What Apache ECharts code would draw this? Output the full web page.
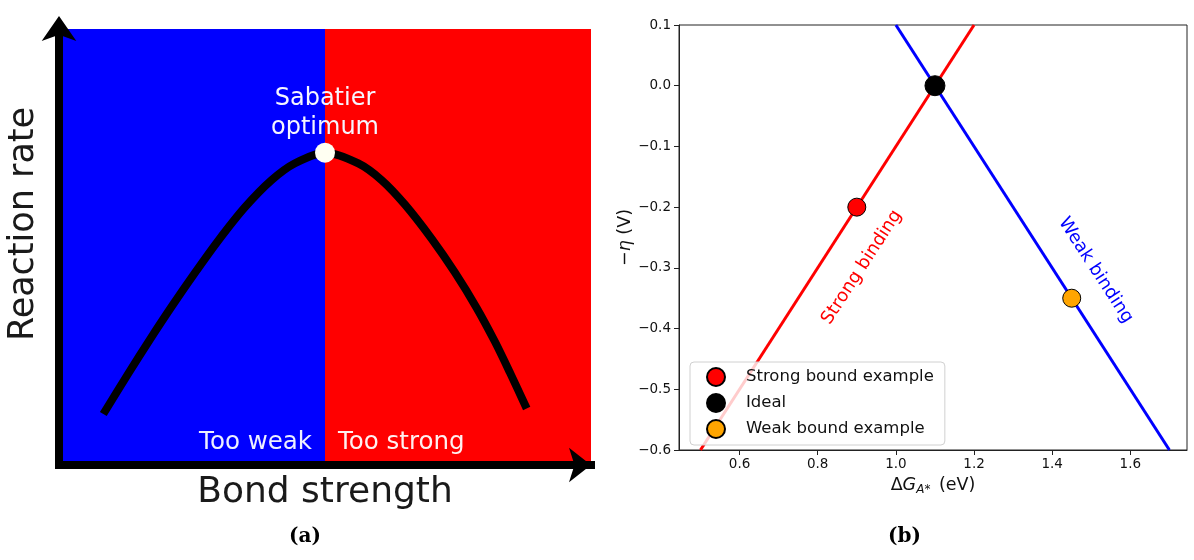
<!DOCTYPE html>
<html>
<head>
<meta charset="utf-8">
<script src="https://cdn.jsdelivr.net/npm/echarts@6/dist/echarts.min.js"></script>
<style>
html,body{margin:0;padding:0;background:#fff;}
#chart{width:1194px;height:560px;}
</style>
</head>
<body>
<div id="chart"></div>
<script>
// ---- Panel (a): schematic Sabatier volcano ----
const curveX = [0.0833, 0.1303, 0.1711, 0.2118, 0.2556, 0.2994, 0.3496, 0.3998, 0.4436, 0.5,
                0.5626, 0.6066, 0.6504, 0.7006, 0.7444, 0.7851, 0.8195, 0.8477, 0.8791];
const curveY = [0.1170, 0.2099, 0.2881, 0.3633, 0.4408, 0.5147, 0.5913, 0.6537, 0.6922, 0.7163,
                0.6917, 0.6532, 0.5970, 0.5186, 0.4411, 0.3603, 0.2826, 0.2119, 0.1296];
const optimumPoint = [0.5, 0.7163];
const regionSplit = 0.5;
const regionLabels = ['Too weak', 'Too strong'];

// ---- Panel (b): limiting potential lines ----
const strongLineX = [0.5, 1.2];
const strongLineY = [-0.6, 0.1];
const weakLineX = [1.0, 1.7];
const weakLineY = [0.1, -0.6];
const pointNames = ['Strong bound example', 'Ideal', 'Weak bound example'];
const pointX = [0.9, 1.1, 1.45];
const pointY = [-0.2, 0.0, -0.35];
const xTicks = [0.6, 0.8, 1.0, 1.2, 1.4, 1.6];

const FONT = 'DejaVu Sans';
const zip = (xs, ys) => xs.map((x, i) => [x, ys[i]]);
const fmt = v => v.toFixed(1).replace('-', '\u2212');

const chart = echarts.init(document.getElementById('chart'), null, {renderer: 'canvas'});

const option = {
  backgroundColor: '#ffffff',
  animation: false,
  textStyle: {fontFamily: FONT},
  grid: [
    {left: 679, right: 7, top: 25, bottom: 110, show: true, borderColor: '#222', borderWidth: 1, backgroundColor: 'transparent'},
    {left: 59, width: 532, top: 29, height: 436}
  ],
  xAxis: [
    {
      type: 'value', gridIndex: 0, min: 0.445, max: 1.745,
      axisLine: {show: true, onZero: false, lineStyle: {color: '#222', width: 1}},
      axisTick: {show: true, length: 5, lineStyle: {color: '#222'}, customValues: xTicks},
      axisLabel: {fontSize: 13.5, color: '#111', margin: 7, fontFamily: FONT, customValues: xTicks, formatter: fmt},
      splitLine: {show: false},
      name: '{d|\u0394}{i|G}{s|A*}{d| (eV)}',
      nameLocation: 'middle', nameGap: 25,
      nameTextStyle: {
        rich: {
          d: {fontSize: 17.5, fontFamily: FONT, color: '#111'},
          i: {fontSize: 17.5, fontFamily: FONT, fontStyle: 'italic', color: '#111'},
          s: {fontSize: 12, fontFamily: FONT, fontStyle: 'italic', color: '#111', padding: [9, 3, 0, 0]}
        }
      }
    },
    {
      type: 'value', gridIndex: 1, min: 0, max: 1, z: 5,
      axisLine: {show: true, onZero: false, symbol: ['none', 'arrow'], symbolSize: [26, 22], symbolOffset: [0, 0],
        lineStyle: {color: '#000', width: 8, cap: 'square'}},
      axisTick: {show: false}, axisLabel: {show: false}, splitLine: {show: false},
      name: 'Bond strength', nameLocation: 'middle', nameGap: 10,
      nameTextStyle: {fontSize: 36, color: '#1a1a1a', fontFamily: FONT}
    }
  ],
  yAxis: [
    {
      type: 'value', gridIndex: 0, min: -0.6, max: 0.1, interval: 0.1,
      axisLine: {show: true, onZero: false, lineStyle: {color: '#222', width: 1}},
      axisTick: {show: true, length: 5, lineStyle: {color: '#222'}},
      axisLabel: {fontSize: 13.5, color: '#111', margin: 8, fontFamily: FONT, formatter: fmt},
      splitLine: {show: false},
      name: '{d|\u2212}{i|\u03b7}{d| (V)}',
      nameLocation: 'middle', nameGap: 43, nameRotate: 90,
      nameTextStyle: {
        rich: {
          d: {fontSize: 17.5, fontFamily: FONT, color: '#111'},
          i: {fontSize: 17.5, fontFamily: FONT, fontStyle: 'italic', color: '#111'}
        }
      }
    },
    {
      type: 'value', gridIndex: 1, min: 0, max: 1, z: 5,
      axisLine: {show: true, onZero: false, symbol: ['none', 'arrow'], symbolSize: [26, 25], symbolOffset: [0, 13],
        lineStyle: {color: '#000', width: 8, cap: 'square'}},
      axisTick: {show: false}, axisLabel: {show: false}, splitLine: {show: false},
      name: 'Reaction rate', nameLocation: 'middle', nameGap: 18, nameRotate: 90,
      nameTextStyle: {fontSize: 35, color: '#1a1a1a', fontFamily: FONT, padding: [0, 0, 0, 46]}
    }
  ],
  legend: {
    orient: 'vertical', left: 690, top: 362,
    data: pointNames,
    icon: 'circle', itemWidth: 18, itemHeight: 18, itemGap: 6,
    padding: [5, 11, 6, 16],
    backgroundColor: 'rgba(255,255,255,0.8)',
    borderColor: '#d0d0d0', borderWidth: 1, borderRadius: 4,
    formatter: name => '{t|' + name + '}',
    textStyle: {fontSize: 16.5, color: '#111', fontFamily: FONT,
      rich: {t: {fontSize: 16.5, color: '#111', fontFamily: FONT, padding: [0, 0, 0, 16]}}}
  },
  series: [
    // panel (a) background regions
    {
      type: 'line', xAxisIndex: 1, yAxisIndex: 1, data: [], z: 1, silent: true,
      markArea: {
        silent: true,
        data: [
          [{xAxis: 0, yAxis: 0, itemStyle: {color: '#0000ff', opacity: 1},
            label: {show: true, position: 'insideBottomRight', distance: 13, offset: [0, 3], formatter: regionLabels[0],
              color: '#eef0ff', fontSize: 24.5, fontFamily: FONT}},
           {xAxis: regionSplit, yAxis: 1}],
          [{xAxis: regionSplit, yAxis: 0, itemStyle: {color: '#ff0000', opacity: 1},
            label: {show: true, position: 'insideBottomLeft', distance: 13, offset: [0, 3], formatter: regionLabels[1],
              color: '#fff0f0', fontSize: 24.5, fontFamily: FONT}},
           {xAxis: 1, yAxis: 1}]
        ]
      }
    },
    {
      type: 'line', xAxisIndex: 1, yAxisIndex: 1, z: 3, silent: true,
      data: zip(curveX, curveY), smooth: 0.3, showSymbol: false,
      lineStyle: {color: '#000', width: 8, cap: 'butt', join: 'round'}
    },
    {
      type: 'scatter', xAxisIndex: 1, yAxisIndex: 1, z: 4, silent: true,
      data: [optimumPoint], symbolSize: 20,
      itemStyle: {color: '#fffff2', opacity: 1},
      label: {show: true, position: 'top', distance: 0, formatter: 'Sabatier\noptimum',
        color: '#f6f6ff', fontSize: 24, lineHeight: 29, fontFamily: FONT, align: 'center'}
    },
    // panel (b)
    {
      name: 'Strong line', type: 'line', xAxisIndex: 0, yAxisIndex: 0, z: 2,
      data: zip(strongLineX, strongLineY), showSymbol: false,
      lineStyle: {color: '#ff0000', width: 3},
      markPoint: {
        symbol: 'circle', symbolSize: 0,
        data: [{coord: [0.913, -0.299], label: {show: true, position: 'inside', formatter: 'Strong binding',
          rotate: 57, color: '#ff0000', fontSize: 18, fontFamily: FONT}}]
      }
    },
    {
      name: 'Weak line', type: 'line', xAxisIndex: 0, yAxisIndex: 0, z: 2,
      data: zip(weakLineX, weakLineY), showSymbol: false,
      lineStyle: {color: '#0000ff', width: 3},
      markPoint: {
        symbol: 'circle', symbolSize: 0,
        data: [{coord: [1.511, -0.304], label: {show: true, position: 'inside', formatter: 'Weak binding',
          rotate: -57, color: '#0000ff', fontSize: 18, fontFamily: FONT}}]
      }
    },
    {
      name: pointNames[0], type: 'scatter', xAxisIndex: 0, yAxisIndex: 0, z: 4,
      data: [[pointX[0], pointY[0]]], symbolSize: 18,
      itemStyle: {color: '#ff0000', borderColor: '#000', borderWidth: 1, opacity: 1}
    },
    {
      name: pointNames[1], type: 'scatter', xAxisIndex: 0, yAxisIndex: 0, z: 4,
      data: [[pointX[1], pointY[1]]], symbolSize: 20,
      itemStyle: {color: '#000000', borderColor: '#000', borderWidth: 1, opacity: 1}
    },
    {
      name: pointNames[2], type: 'scatter', xAxisIndex: 0, yAxisIndex: 0, z: 4,
      data: [[pointX[2], pointY[2]]], symbolSize: 18,
      itemStyle: {color: '#ffa500', borderColor: '#000', borderWidth: 1, opacity: 1}
    }
  ],
  graphic: [
    {type: 'text', left: 289, top: 527, style: {text: '(a)', font: 'bold 20px "DejaVu Serif"', fill: '#000'}},
    {type: 'text', left: 888, top: 527, style: {text: '(b)', font: 'bold 20px "DejaVu Serif"', fill: '#000'}}
  ]
};
chart.setOption(option);
</script>
</body>
</html>
